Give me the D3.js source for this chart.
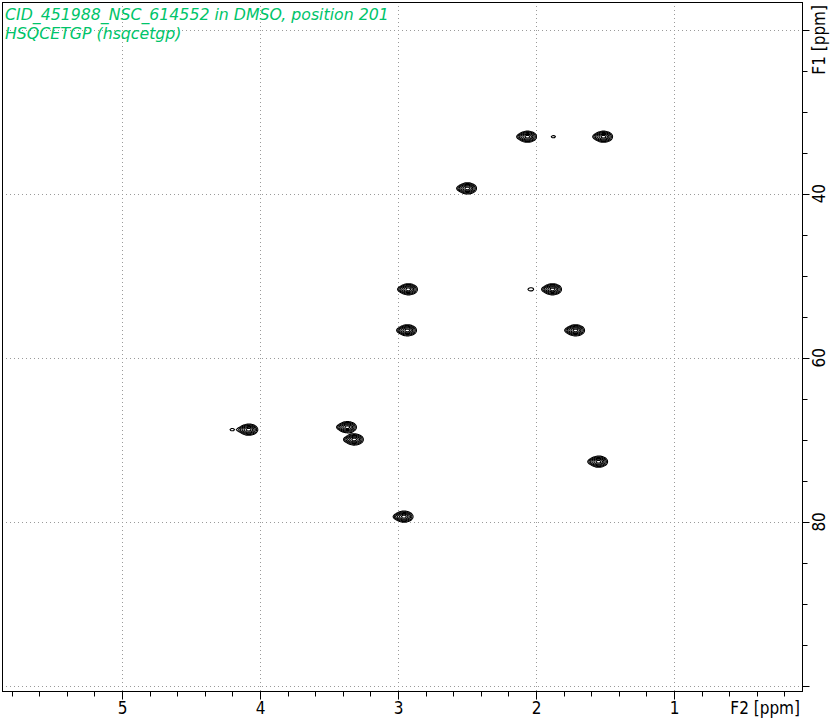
<!DOCTYPE html>
<html><head><meta charset="utf-8">
<script src="https://cdn.jsdelivr.net/npm/d3@7"></script>
<style>body{margin:0;background:#fff}svg{display:block}</style>
</head><body>
<script>
// Data
const titleLines = ["CID_451988_NSC_614552 in DMSO, position 201", "HSQCETGP (hsqcetgp)"];
const f2Ticks = [5, 4, 3, 2, 1];
const f1Ticks = [40, 60, 80];
const f1Grid = [20, 40, 60, 80, 100];
const peakF2 = [2.065, 1.514, 1.877, 2.50, 2.928, 1.884, 2.04, 2.935, 1.717, 4.085, 4.205, 3.37, 3.32, 1.55, 2.96];
const peakF1 = [33.0, 33.0, 33.0, 39.3, 51.6, 51.6, 51.6, 56.6, 56.6, 68.7, 68.7, 68.4, 69.9, 72.6, 79.3];
const peakAmp = [1.0, 1.0, 0.09, 1.0, 1.0, 1.0, 0.1, 1.0, 1.0, 1.0, 0.09, 1.0, 1.0, 1.0, 1.0];

const W = 831, H = 720;
const L = 2, R = 802, T = 2, B = 691;
const FONT = "DejaVu Sans Condensed, DejaVu Sans";
const svg = d3.select("body").append("svg").attr("width", W).attr("height", H);

const x = d3.scaleLinear().domain([5, 1]).range([122, 674]);
const y = d3.scaleLinear().domain([20, 100]).range([29.5, 686]);

// grid
const g = svg.append("g");
g.selectAll(".gx").data(f2Ticks).join("line")
  .attr("x1", d => Math.round(x(d)) + 0.5).attr("x2", d => Math.round(x(d)) + 0.5)
  .attr("y1", T).attr("y2", B)
  .attr("stroke", "#9a9a9a").attr("stroke-width", 1).attr("stroke-dasharray", "1,3");
g.selectAll(".gy").data(f1Grid).join("line")
  .attr("y1", d => Math.round(y(d)) + 0.5).attr("y2", d => Math.round(y(d)) + 0.5)
  .attr("x1", L).attr("x2", R)
  .attr("stroke", "#9a9a9a").attr("stroke-width", 1).attr("stroke-dasharray", "1,3");

// contours
const nx = R - L, ny = B - T;
const values = new Float64Array(nx * ny);
const sx = 0.029, sy = 0.30;
for (let k = 0; k < peakF2.length; k++) {
  const cx = x(peakF2[k]) - L, cy = y(peakF1[k]) - T;
  const spx = sx * 138, spy = sy * 8.206;
  const A = peakAmp[k];
  for (let j = Math.max(0, Math.floor(cy - 6 * spy)); j < Math.min(ny, Math.ceil(cy + 6 * spy)); j++) {
    for (let i = Math.max(0, Math.floor(cx - 6 * spx)); i < Math.min(nx, Math.ceil(cx + 6 * spx)); i++) {
      const dx = (i - cx) / spx, dy = (j - cy) / spy;
      const tail = i < cx ? 0.18 * Math.exp(-0.5 * ((i - cx + 7) / 2.5) ** 2 - 0.5 * ((j - cy) / 1.4) ** 2) : 0;
      values[j * nx + i] += A * Math.exp(-0.5 * (dx * dx + dy * dy)) + A * tail;
    }
  }
}
const thresholds = [0.08, 0.15, 0.26, 0.42, 0.62, 0.85];
const contours = d3.contours().size([nx, ny]).thresholds(thresholds)(values);
svg.append("g").attr("transform", `translate(${L},${T})`)
  .selectAll("path").data(contours).join("path")
  .attr("d", d3.geoPath())
  .attr("fill", "none").attr("stroke", "#000").attr("stroke-width", 1.1);

// frame
svg.append("rect").attr("x", L + 0.5).attr("y", T + 0.5).attr("width", R - L).attr("height", B - T)
  .attr("fill", "none").attr("stroke", "#000").attr("stroke-width", 1);

// bottom axis
const minorX = d3.range(0.2, 5.81, 0.2).map(v => +v.toFixed(2)).filter(v => Math.abs(v - Math.round(v)) > 1e-6);
const xAxis = svg.append("g").attr("transform", `translate(0,${B + 0.5})`);
xAxis.selectAll(".mj").data(f2Ticks).join("line")
  .attr("x1", d => Math.round(x(d)) + 0.5).attr("x2", d => Math.round(x(d)) + 0.5)
  .attr("y1", 0).attr("y2", 8).attr("stroke", "#000");
xAxis.selectAll(".mn").data(minorX).join("line")
  .attr("x1", d => Math.round(x(d)) + 0.5).attr("x2", d => Math.round(x(d)) + 0.5)
  .attr("y1", 0).attr("y2", 5).attr("stroke", "#000");
xAxis.selectAll("text").data(f2Ticks).join("text")
  .attr("x", d => x(d) + 0.5).attr("y", 22)
  .attr("text-anchor", "middle")
  .attr("font-family", FONT).attr("font-size", 17)
  .text(d => d);
svg.append("text").attr("x", 800).attr("y", 713.5).attr("text-anchor", "end")
  .attr("font-family", FONT).attr("font-size", 17)
  .text("F2 [ppm]");

// right axis
const minorY = d3.range(20, 101, 5).filter(v => v % 20 !== 0);
const yAxis = svg.append("g").attr("transform", `translate(${R + 0.5},0)`);
yAxis.selectAll(".mj").data(f1Grid).join("line")
  .attr("y1", d => Math.round(y(d)) + 0.5).attr("y2", d => Math.round(y(d)) + 0.5)
  .attr("x1", 0).attr("x2", 7).attr("stroke", "#000");
yAxis.selectAll(".mn").data(minorY).join("line")
  .attr("y1", d => Math.round(y(d)) + 0.5).attr("y2", d => Math.round(y(d)) + 0.5)
  .attr("x1", 0).attr("x2", 5).attr("stroke", "#000");
yAxis.selectAll("text").data(f1Ticks).join("text")
  .attr("transform", d => `translate(22.5,${y(d)}) rotate(-90)`)
  .attr("text-anchor", "middle")
  .attr("font-family", FONT).attr("font-size", 17)
  .text(d => d);
svg.append("text").attr("transform", `translate(${R + 23},5) rotate(-90)`)
  .attr("text-anchor", "end")
  .attr("font-family", FONT).attr("font-size", 17)
  .text("F1 [ppm]");

// title
svg.selectAll(".title").data(titleLines).join("text")
  .attr("x", 5).attr("y", (d, i) => 20 + i * 19)
  .attr("fill", "#00c46a")
  .attr("font-family", "DejaVu Sans").attr("font-style", "italic").attr("font-size", 15.75)
  .text(d => d);
</script>
</body></html>
